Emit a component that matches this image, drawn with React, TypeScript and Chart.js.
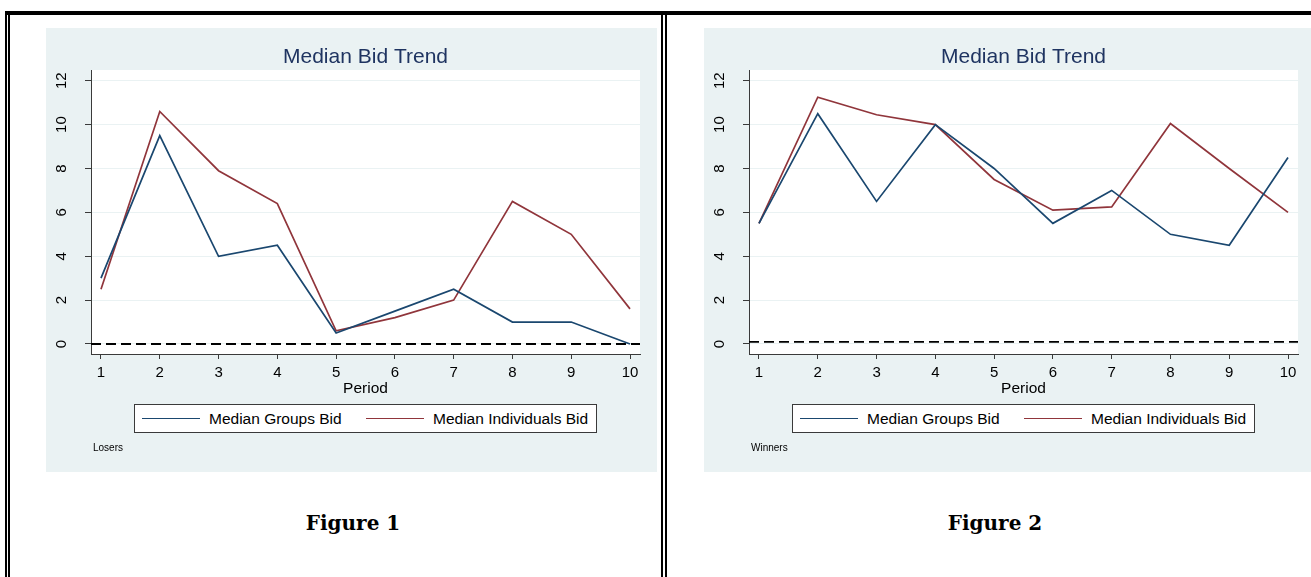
import React, { useEffect, useRef } from "react";
import { Chart, registerables } from "chart.js";

Chart.register(...registerables);

// ---------- data ----------
const periods = [1, 2, 3, 4, 5, 6, 7, 8, 9, 10];
const yTickValues = [0, 2, 4, 6, 8, 10, 12];

const losersGroupsBid = [3.0, 9.5, 4.0, 4.5, 0.5, 1.5, 2.5, 1.0, 1.0, 0.0];
const losersIndividualsBid = [2.5, 10.6, 7.9, 6.4, 0.6, 1.2, 2.0, 6.5, 5.0, 1.6];
const losersReference = 0;

const winnersGroupsBid = [5.5, 10.5, 6.5, 10.0, 8.0, 5.5, 7.0, 5.0, 4.5, 8.5];
const winnersIndividualsBid = [5.5, 11.25, 10.45, 10.0, 7.5, 6.1, 6.25, 10.05, 8.0, 6.0];
const winnersReference = 0.1;

const chartTitle = "Median Bid Trend";
const xAxisTitle = "Period";
const seriesLabels = ["Median Groups Bid", "Median Individuals Bid"];

// axis ranges
const X_MIN = 0.83;
const X_MAX = 10.17;
const Y_MIN = -0.456;
const Y_MAX = 12.49;

// ---------- styles ----------
const SANS = "'Liberation Sans', Arial, Helvetica, sans-serif";
const SERIF = "'DejaVu Serif', 'Liberation Serif', serif";
const BLUE = "#1a476f";
const RED = "#90353b";
const PANEL = "#eaf2f3";
const AXIS = "#3a3a3a";
const TITLE_COLOR = "#1f3461";

const bgPlugin = {
  id: "panelBg",
  beforeDraw(chart: any) {
    const { ctx, chartArea: a, width, height } = chart;
    ctx.save();
    ctx.fillStyle = PANEL;
    ctx.fillRect(0, 0, width, height);
    ctx.fillStyle = "#ffffff";
    ctx.fillRect(a.left, a.top, a.right - a.left, a.bottom - a.top);
    ctx.restore();
  },
};

type PanelProps = {
  left: number;
  width: number;
  groups: number[];
  individuals: number[];
  refValue: number;
  note: string;
};

const PANEL_TOP = 28;
const PANEL_HEIGHT = 444;
const PLOT_RIGHT = 594; // chart area right edge inside the canvas

function Panel({ left, width, groups, individuals, refValue, note }: PanelProps) {
  const ref = useRef<HTMLCanvasElement>(null);

  useEffect(() => {
    const chart = new Chart(ref.current as HTMLCanvasElement, {
      type: "line",
      data: {
        datasets: [
          {
            label: seriesLabels[0],
            data: periods.map((p, i) => ({ x: p, y: groups[i] })),
            borderColor: BLUE,
            backgroundColor: BLUE,
            borderWidth: 1.7,
            pointRadius: 0,
            tension: 0,
          },
          {
            label: seriesLabels[1],
            data: periods.map((p, i) => ({ x: p, y: individuals[i] })),
            borderColor: RED,
            backgroundColor: RED,
            borderWidth: 1.7,
            pointRadius: 0,
            tension: 0,
          },
          {
            label: "reference",
            data: [
              { x: X_MIN, y: refValue },
              { x: X_MAX, y: refValue },
            ],
            borderColor: "#000000",
            borderWidth: 1.8,
            borderDash: [10, 5],
            pointRadius: 0,
            tension: 0,
          },
        ],
      },
      options: {
        responsive: false,
        animation: false,
        devicePixelRatio: 1,
        layout: { padding: { left: 0, right: width - PLOT_RIGHT, top: 0, bottom: 0 } },
        plugins: {
          legend: { display: false },
          tooltip: { enabled: false },
          title: {
            display: true,
            text: chartTitle,
            fullSize: false,
            color: TITLE_COLOR,
            font: { family: SANS, size: 21, weight: "normal" },
            padding: { top: 16.8, bottom: 0 },
          },
        },
        scales: {
          x: {
            type: "linear",
            min: X_MIN,
            max: X_MAX,
            afterBuildTicks: (scale: any) => {
              scale.ticks = periods.map((v) => ({ value: v }));
            },
            afterFit: (scale: any) => {
              scale.height = PANEL_HEIGHT - 326;
            },
            grid: {
              drawOnChartArea: false,
              drawTicks: true,
              tickLength: 5,
              tickColor: AXIS,
            },
            border: { display: true, color: AXIS, width: 1 },
            ticks: {
              color: "#000",
              font: { family: SANS, size: 15 },
              padding: 5,
              maxRotation: 0,
              minRotation: 0,
              callback: (v: any) => String(v),
            },
            title: {
              display: true,
              text: xAxisTitle,
              color: "#000",
              font: { family: SANS, size: 15.5 },
              padding: { top: 0, bottom: 73.7 },
            },
          },
          y: {
            type: "linear",
            min: Y_MIN,
            max: Y_MAX,
            afterBuildTicks: (scale: any) => {
              scale.ticks = yTickValues.map((v) => ({ value: v }));
            },
            afterFit: (scale: any) => {
              scale.width = 45;
            },
            grid: {
              color: PANEL,
              lineWidth: 1,
              drawTicks: true,
              tickLength: 6,
              tickColor: AXIS,
            },
            border: { display: true, color: AXIS, width: 1 },
            ticks: {
              color: "#000",
              font: { family: SANS, size: 15 },
              minRotation: 90,
              maxRotation: 90,
              crossAlign: "center",
              padding: 14.6,
              callback: (v: any) => String(v),
            },
          },
        },
      },
      plugins: [bgPlugin],
    } as any);
    return () => chart.destroy();
  }, []);

  return (
    <div
      style={{
        position: "absolute",
        left,
        top: PANEL_TOP,
        width,
        height: PANEL_HEIGHT,
        background: PANEL,
        overflow: "hidden",
      }}
    >
      <canvas
        ref={ref}
        width={width}
        height={PANEL_HEIGHT}
        style={{ display: "block", width, height: PANEL_HEIGHT }}
      />
      {/* legend */}
      <div
        style={{
          position: "absolute",
          left: 88,
          top: 376,
          width: 463,
          height: 29,
          boxSizing: "border-box",
          background: "#fff",
          border: `1px solid ${AXIS}`,
          fontFamily: SANS,
          fontSize: 15.5,
          color: "#000",
        }}
      >
        <div
          style={{
            position: "absolute",
            left: 7,
            top: 13,
            width: 58,
            height: 0,
            borderTop: `1.6px solid ${BLUE}`,
          }}
        />
        <div style={{ position: "absolute", left: 74, top: 0, lineHeight: "27px", whiteSpace: "nowrap" }}>
          {seriesLabels[0]}
        </div>
        <div
          style={{
            position: "absolute",
            left: 231,
            top: 13,
            width: 58,
            height: 0,
            borderTop: `1.6px solid ${RED}`,
          }}
        />
        <div style={{ position: "absolute", left: 298, top: 0, lineHeight: "27px", whiteSpace: "nowrap" }}>
          {seriesLabels[1]}
        </div>
      </div>
      {/* note */}
      <div
        style={{
          position: "absolute",
          left: 47,
          top: 413,
          lineHeight: "14px",
          fontFamily: SANS,
          fontSize: 10,
          color: "#000",
        }}
      >
        {note}
      </div>
    </div>
  );
}

function Line({ l, t, w, h }: { l: number; t: number; w: number; h: number }) {
  return <div style={{ position: "absolute", left: l, top: t, width: w, height: h, background: "#000" }} />;
}

function Caption({ cx, text }: { cx: number; text: string }) {
  return (
    <div
      style={{
        position: "absolute",
        left: cx - 120,
        width: 240,
        top: 510,
        lineHeight: "26px",
        textAlign: "center",
        fontFamily: SERIF,
        fontWeight: "bold",
        fontSize: 20,
        color: "#000",
      }}
    >
      {text}
    </div>
  );
}

export default function App() {
  return (
    <div
      style={{
        position: "absolute",
        left: 0,
        top: 0,
        width: 1311,
        height: 577,
        overflow: "hidden",
        background: "#fff",
      }}
    >
      {/* frame lines */}
      <Line l={5} t={11} w={1306} h={4} />
      <Line l={5} t={11} w={2} h={566} />
      <Line l={8} t={11} w={2} h={566} />
      <Line l={661} t={11} w={2} h={566} />
      <Line l={665} t={11} w={2} h={566} />

      <Panel
        left={46}
        width={611}
        groups={losersGroupsBid}
        individuals={losersIndividualsBid}
        refValue={losersReference}
        note="Losers"
      />
      <Panel
        left={704}
        width={607}
        groups={winnersGroupsBid}
        individuals={winnersIndividualsBid}
        refValue={winnersReference}
        note="Winners"
      />

      <Caption cx={353} text="Figure 1" />
      <Caption cx={995} text="Figure 2" />
    </div>
  );
}
